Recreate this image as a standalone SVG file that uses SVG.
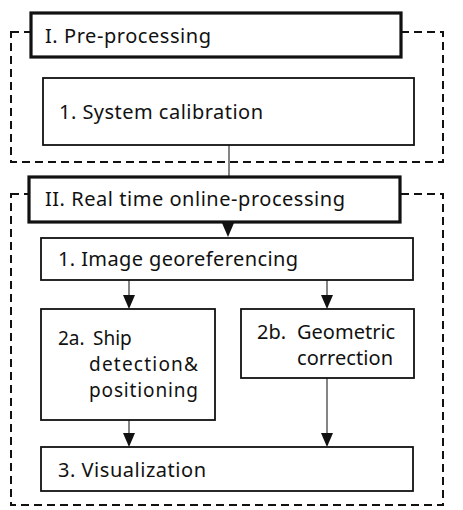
<svg xmlns="http://www.w3.org/2000/svg" width="463" height="510" viewBox="0 0 463 510">
<style>
text{font-family:"Noto Sans","DejaVu Sans",sans-serif;font-size:20px;fill:#111}
.sm{font-size:19px}
.box{fill:#fff;stroke:#111;stroke-width:1.8}
.thick{fill:#fff;stroke:#111;stroke-width:3.2}
.dash{fill:none;stroke:#111;stroke-width:2;stroke-dasharray:8 5}
.conn{stroke:#333;stroke-width:1.2;fill:none}
.head{fill:#111}
</style>
<rect class="dash" x="11" y="32" width="432" height="130"/>
<rect class="dash" x="11" y="194" width="432" height="311"/>
<g id="connectors">
<line class="conn" x1="229" y1="145" x2="229" y2="177"/>
<path class="head" d="M222,223 L234,223 L228,237 Z"/>
<line class="conn" x1="129" y1="280" x2="129" y2="295"/>
<path class="head" d="M123,295 L135,295 L129,309 Z"/>
<line class="conn" x1="327" y1="280" x2="327" y2="295"/>
<path class="head" d="M321,295 L333,295 L327,309 Z"/>
<line class="conn" x1="129" y1="420" x2="129" y2="433"/>
<path class="head" d="M123,433 L135,433 L129,447 Z"/>
<line class="conn" x1="327" y1="378" x2="327" y2="433"/>
<path class="head" d="M321,433 L333,433 L327,447 Z"/>
</g>
<g id="preprocessing">
<rect class="thick" x="31" y="13" width="370" height="44"/>
<text x="45" y="43" textLength="166">I. Pre-processing</text>
</g>
<g id="calibration">
<rect class="box" x="43" y="78" width="371" height="67"/>
<text x="59" y="119" textLength="204">1. System calibration</text>
</g>
<g id="realtime">
<rect class="thick" x="29" y="177" width="371" height="45"/>
<text x="45" y="206" textLength="300">II. Real time online-processing</text>
</g>
<g id="georef">
<rect class="box" x="41" y="238" width="372" height="42"/>
<text x="58" y="266" textLength="240">1. Image georeferencing</text>
</g>
<g id="ship">
<rect class="box" x="41" y="309" width="174" height="111"/>
<text class="sm" y="345"><tspan x="58">2a.</tspan><tspan x="93">Ship</tspan></text>
<text class="sm" x="89" y="371" textLength="109">detection&amp;</text>
<text class="sm" x="89" y="397" textLength="109">positioning</text>
</g>
<g id="geometric">
<rect class="box" x="241" y="309" width="173" height="69"/>
<text y="339"><tspan x="257">2b.</tspan><tspan x="297">Geometric</tspan></text>
<text x="297" y="365" textLength="96">correction</text>
</g>
<g id="visualization">
<rect class="box" x="41" y="447" width="372" height="44"/>
<text x="58" y="477" textLength="148">3. Visualization</text>
</g>
</svg>
